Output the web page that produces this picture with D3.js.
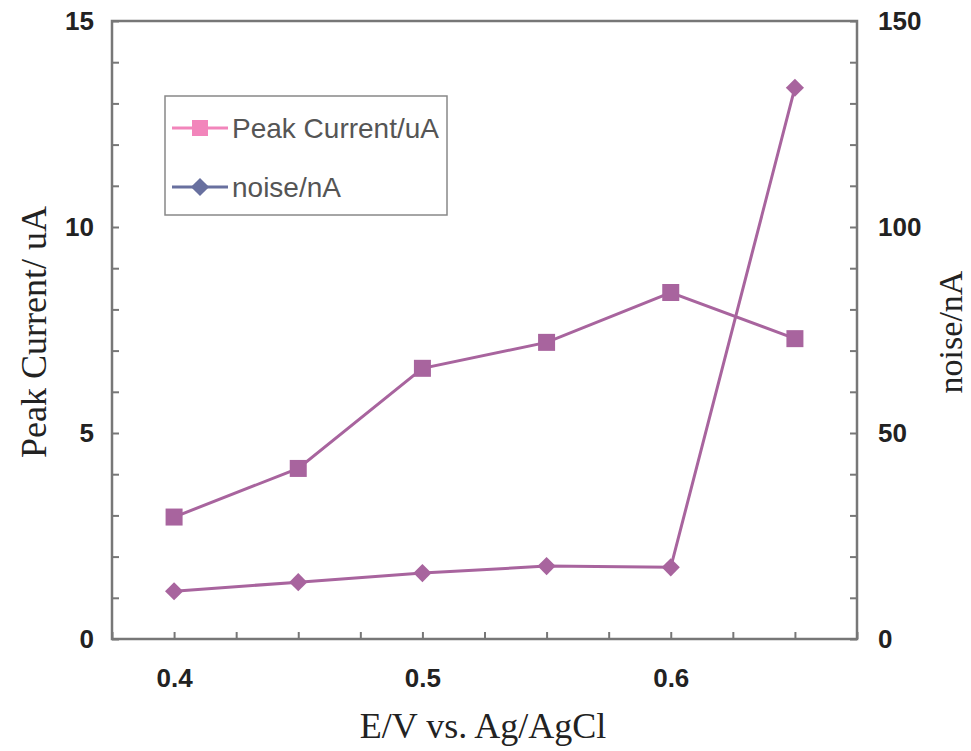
<!DOCTYPE html>
<html>
<head>
<meta charset="utf-8">
<script src="https://cdn.jsdelivr.net/npm/d3@7"></script>
<style>
  html, body { margin: 0; padding: 0; background: #fff; }
  svg { display: block; }
</style>
</head>
<body>
<svg id="chart" width="971" height="751"></svg>
<script>
// Applied potential (V vs. Ag/AgCl)
const potentials = [0.40, 0.45, 0.50, 0.55, 0.60, 0.65];
// Peak current in uA (left axis)
const peakCurrent = [2.96, 4.14, 6.57, 7.20, 8.41, 7.29];
// Background noise in nA (right axis)
const noise = [11.6, 13.8, 16.0, 17.7, 17.4, 133.8];

// Labelled ticks
const xTickLabels = [0.4, 0.5, 0.6];
const leftTickLabels = [0, 5, 10, 15];
const rightTickLabels = [0, 50, 100, 150];

const legendItems = ["Peak Current/uA", "noise/nA"];

const svg = d3.select("#chart");
const plot = { left: 112, right: 857, top: 21, bottom: 639 };

const x = d3.scaleLinear().domain([0.375, 0.675]).range([plot.left, plot.right]);
const yL = d3.scaleLinear().domain([0, 15]).range([plot.bottom, plot.top]);
const yR = d3.scaleLinear().domain([0, 150]).range([plot.bottom, plot.top]);

const axisColor = "#777";
const seriesColor = "#a8649e";

// Frame
svg.append("rect")
  .attr("x", plot.left).attr("y", plot.top)
  .attr("width", plot.right - plot.left).attr("height", plot.bottom - plot.top)
  .attr("fill", "none").attr("stroke", axisColor).attr("stroke-width", 2.5);

function styleAxis(g, fontSize) {
  g.select(".domain").remove();
  g.selectAll(".tick line").attr("stroke", axisColor).attr("stroke-width", 2);
  g.selectAll(".tick text")
    .attr("fill", "#222")
    .style("font-family", "'Liberation Sans', Arial, sans-serif")
    .style("font-weight", "bold")
    .style("font-size", fontSize + "px");
}

// Left axis: ticks every 1 uA, labels every 5
svg.append("g")
  .attr("transform", `translate(${plot.left},0)`)
  .call(d3.axisLeft(yL).tickValues(d3.range(0, 15.01, 1))
    .tickSizeInner(-7).tickSizeOuter(0).tickPadding(18)
    .tickFormat(d => leftTickLabels.includes(d) ? d : ""))
  .call(g => styleAxis(g, 26));

// Right axis: ticks every 10 nA, labels every 50
svg.append("g")
  .attr("transform", `translate(${plot.right},0)`)
  .call(d3.axisRight(yR).tickValues(d3.range(0, 150.1, 10))
    .tickSizeInner(-7).tickSizeOuter(0).tickPadding(21)
    .tickFormat(d => rightTickLabels.includes(d) ? d : ""))
  .call(g => styleAxis(g, 26));

// Bottom axis: ticks every 0.025 V, labels every 0.1
svg.append("g")
  .attr("transform", `translate(0,${plot.bottom})`)
  .call(d3.axisBottom(x).tickValues(d3.range(0, 13).map(i => 0.375 + i * 0.025))
    .tickSizeInner(-7).tickSizeOuter(0).tickPadding(30)
    .tickFormat(d => xTickLabels.some(v => Math.abs(v - d) < 1e-6) ? d3.format(".1f")(d) : ""))
  .call(g => styleAxis(g, 26));

// Axis titles
const serif = "'Liberation Serif', 'Times New Roman', serif";
svg.append("text")
  .attr("transform", "translate(46,332) rotate(-90)")
  .attr("text-anchor", "middle")
  .style("font-family", serif).style("font-size", "36px").attr("fill", "#222")
  .text("Peak Current/ uA");
svg.append("text")
  .attr("transform", "translate(962,332) rotate(-90)")
  .attr("text-anchor", "middle")
  .style("font-family", serif).style("font-size", "34px").attr("fill", "#222")
  .text("noise/nA");
svg.append("text")
  .attr("x", 483).attr("y", 738)
  .attr("text-anchor", "middle")
  .style("font-family", serif).style("font-size", "36px").attr("fill", "#222")
  .text("E/V vs. Ag/AgCl");

// Series
const noiseData = potentials.map((p, i) => ({ x: p, y: noise[i] }));
const currentData = potentials.map((p, i) => ({ x: p, y: peakCurrent[i] }));

svg.append("path")
  .datum(noiseData)
  .attr("fill", "none").attr("stroke", seriesColor).attr("stroke-width", 3)
  .attr("d", d3.line().x(d => x(d.x)).y(d => yR(d.y)));

svg.append("path")
  .datum(currentData)
  .attr("fill", "none").attr("stroke", seriesColor).attr("stroke-width", 3)
  .attr("d", d3.line().x(d => x(d.x)).y(d => yL(d.y)));

const diamond = d3.symbol().type(d3.symbolDiamond2).size(210);
svg.append("g").selectAll("path")
  .data(noiseData).join("path")
  .attr("transform", d => `translate(${x(d.x)},${yR(d.y)})`)
  .attr("d", diamond).attr("fill", seriesColor);

const sq = 17;
svg.append("g").selectAll("rect")
  .data(currentData).join("rect")
  .attr("x", d => x(d.x) - sq / 2).attr("y", d => yL(d.y) - sq / 2)
  .attr("width", sq).attr("height", sq).attr("fill", seriesColor);

// Legend
const legend = svg.append("g");
legend.append("rect")
  .attr("x", 165).attr("y", 96).attr("width", 282).attr("height", 119)
  .attr("fill", "#fff").attr("stroke", "#888").attr("stroke-width", 1.5);

const legendColors = ["#f285bb", "#68709f"];
legendItems.forEach((label, i) => {
  const cy = 128 + i * 59;
  legend.append("line")
    .attr("x1", 172).attr("x2", 228).attr("y1", cy).attr("y2", cy)
    .attr("stroke", legendColors[i]).attr("stroke-width", 3);
  if (i === 0) {
    legend.append("rect")
      .attr("x", 192).attr("y", cy - 8).attr("width", 16).attr("height", 16)
      .attr("fill", legendColors[i]);
  } else {
    legend.append("path")
      .attr("transform", `translate(200,${cy})`)
      .attr("d", diamond).attr("fill", legendColors[i]);
  }
  legend.append("text")
    .attr("x", 232).attr("y", cy + 10)
    .style("font-family", "'Liberation Sans', Arial, sans-serif")
    .style("font-size", "28px").attr("fill", "#555")
    .text(label);
});
</script>
</body>
</html>
